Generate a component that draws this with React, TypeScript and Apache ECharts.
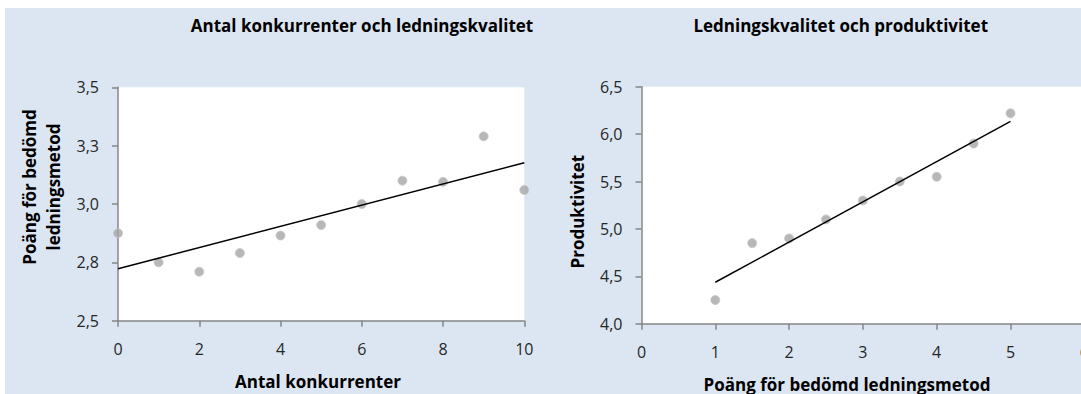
import { useEffect, useRef } from "react";
import * as echarts from "echarts";

// ---- data ----
const competitors = [0, 1, 2, 3, 4, 5, 6, 7, 8, 9, 10];
const mgmtScoreByCompetitors = [2.875, 2.75, 2.71, 2.79, 2.865, 2.91, 3.0, 3.1, 3.095, 3.29, 3.06];
const mgmtScore = [1, 1.5, 2, 2.5, 3, 3.5, 4, 4.5, 5];
const productivity = [4.25, 4.85, 4.9, 5.1, 5.3, 5.5, 5.55, 5.9, 6.22];

const titleLeft = "Antal konkurrenter och ledningskvalitet";
const titleRight = "Ledningskvalitet och produktivitet";
const xNameLeft = "Antal konkurrenter";
const yNameLeft = "Poäng för bedömd\nledningsmetod";
const xNameRight = "Poäng för bedömd ledningsmetod";
const yNameRight = "Produktivitet";

// ---- layout ----
const OX = 5;
const OY = 8;
const FONT = "'Open Sans', 'Noto Sans', sans-serif";
const AXIS_COLOR = "#868686";
const LABEL_COLOR = "#262626";

function fit(xs: number[], ys: number[]) {
  const n = xs.length;
  const mx = xs.reduce((a, b) => a + b, 0) / n;
  const my = ys.reduce((a, b) => a + b, 0) / n;
  let sxy = 0;
  let sxx = 0;
  for (let i = 0; i < n; i++) {
    sxy += (xs[i] - mx) * (ys[i] - my);
    sxx += (xs[i] - mx) * (xs[i] - mx);
  }
  const m = sxy / sxx;
  const b = my - m * mx;
  const x0 = Math.min(...xs);
  const x1 = Math.max(...xs);
  return [
    [x0, b + m * x0],
    [x1, b + m * x1],
  ];
}

const fmt = (v: number) => v.toFixed(1).replace(".", ",");
const fmtInt = (v: number) => String(v);

function axisCommon() {
  return {
    axisLine: { show: true, onZero: false, lineStyle: { color: AXIS_COLOR, width: 1.5 } },
    axisTick: { show: true, inside: false, length: 6, lineStyle: { color: AXIS_COLOR, width: 1.5 } },
    splitLine: { show: false },
  };
}

function labelStyle(margin: number, formatter: (v: number) => string) {
  return {
    show: true,
    margin,
    fontSize: 16,
    fontFamily: FONT,
    color: LABEL_COLOR,
    formatter,
    showMinLabel: true,
    showMaxLabel: true,
    hideOverlap: false,
  };
}

const boldText = (x: number, y: number, text: string, rotation = 0) => ({
  type: "text",
  x: x - OX,
  y: y - OY,
  rotation,
  style: {
    text,
    align: "center",
    verticalAlign: "middle",
    font: `bold 17px ${FONT}`,
    fill: "#000",
    lineHeight: 24,
  },
});

export default function App() {
  const ref = useRef<HTMLDivElement>(null);
  useEffect(() => {
    const chart = echarts.init(ref.current!, null, { renderer: "svg" });
    const option = {
      animation: false,
      backgroundColor: "#dce6f2",
      grid: [
        {
          left: 118 - OX,
          top: 87.3 - OY,
          width: 406.3,
          height: 233.4,
          show: true,
          backgroundColor: "#ffffff",
          borderWidth: 0,
          containLabel: false,
          outerBoundsMode: "none",
        },
        {
          left: 641.5 - OX,
          top: 86.7 - OY,
          width: 442.8,
          height: 237,
          show: true,
          backgroundColor: "#ffffff",
          borderWidth: 0,
          containLabel: false,
          outerBoundsMode: "none",
        },
      ],
      xAxis: [
        {
          type: "value",
          gridIndex: 0,
          min: 0,
          max: 10,
          interval: 2,
          ...axisCommon(),
          axisLabel: labelStyle(20, fmtInt),
        },
        {
          type: "value",
          gridIndex: 1,
          min: 0,
          max: 6,
          interval: 1,
          ...axisCommon(),
          axisLabel: labelStyle(20, fmtInt),
        },
      ],
      yAxis: [
        {
          type: "value",
          gridIndex: 0,
          min: 2.5,
          max: 3.5,
          interval: 0.25,
          ...axisCommon(),
          axisLabel: labelStyle(19, fmt),
        },
        {
          type: "value",
          gridIndex: 1,
          min: 4,
          max: 6.5,
          interval: 0.5,
          ...axisCommon(),
          axisLabel: labelStyle(19, fmt),
        },
      ],
      series: [
        {
          type: "scatter",
          xAxisIndex: 0,
          yAxisIndex: 0,
          symbol: "circle",
          symbolSize: 9,
          z: 2,
          itemStyle: { color: "#a5a5a5", borderColor: "#c8c8c8", borderWidth: 1 },
          data: competitors.map((x, i) => [x, mgmtScoreByCompetitors[i]]),
        },
        {
          type: "line",
          xAxisIndex: 0,
          yAxisIndex: 0,
          symbol: "none",
          z: 3,
          lineStyle: { color: "#000", width: 1.5 },
          data: fit(competitors, mgmtScoreByCompetitors),
        },
        {
          type: "scatter",
          xAxisIndex: 1,
          yAxisIndex: 1,
          symbol: "circle",
          symbolSize: 9,
          z: 2,
          itemStyle: { color: "#a5a5a5", borderColor: "#c8c8c8", borderWidth: 1 },
          data: mgmtScore.map((x, i) => [x, productivity[i]]),
        },
        {
          type: "line",
          xAxisIndex: 1,
          yAxisIndex: 1,
          symbol: "none",
          z: 3,
          lineStyle: { color: "#000", width: 1.5 },
          data: fit(mgmtScore, productivity),
        },
      ],
      graphic: [
        boldText(362, 25, titleLeft),
        boldText(840.7, 25, titleRight),
        boldText(318, 381, xNameLeft),
        boldText(847, 384, xNameRight),
        boldText(41, 187, yNameLeft, Math.PI / 2),
        boldText(577.4, 211.7, yNameRight, Math.PI / 2),
      ],
    };
    chart.setOption(option as any);
    return () => chart.dispose();
  }, []);
  return (
    <div
      ref={ref}
      style={{ position: "absolute", left: OX, top: OY, width: 1081 - OX, height: 394 - OY }}
    />
  );
}
